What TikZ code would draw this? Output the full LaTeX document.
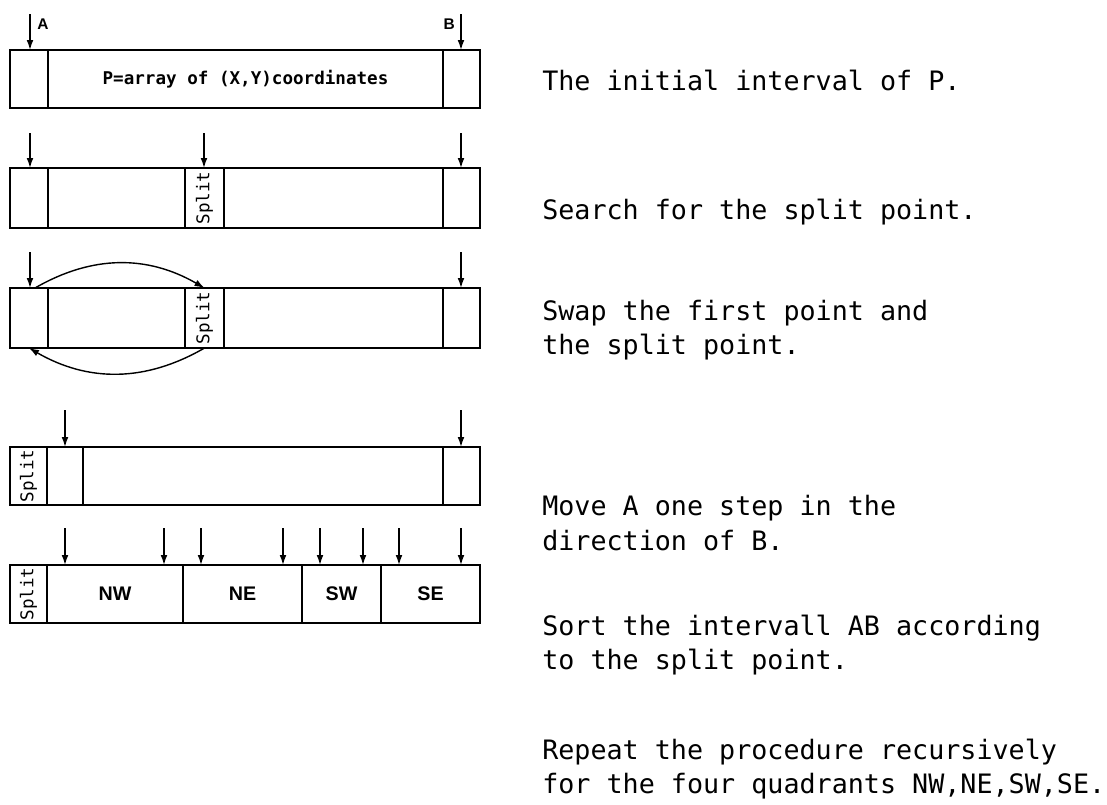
\documentclass[tikz,border=0pt]{standalone}
\usepackage{fontspec}
\setmonofont{DejaVu Sans Mono}
\setsansfont{Liberation Sans}
\usetikzlibrary{arrows.meta}

\begin{document}
\begin{tikzpicture}[x=0.025cm, y=-0.025cm, >={Latex[length=2.5mm, width=1.7mm]},
	cell/.style={draw, line width=1.5pt, inner sep=0pt, outer sep=0pt, anchor=north west,
		minimum height=1.45cm, font=\ttfamily\fontsize{12.5}{14}\selectfont},
	ptr/.style={->, line width=1pt},
	note/.style={anchor=west, align=left, inner sep=0pt, font=\ttfamily\fontsize{19}{24.4}\selectfont},
	tag/.style={font=\sffamily\bfseries\fontsize{11}{12}\selectfont, inner sep=0pt}]
	\useasboundingbox (0,0) rectangle (1107,804);
	% row 1: the whole array
	\foreach \nm/\xa/\xb/\txt in {a1/10/48/{}, p1/48/443/{\bfseries P=array of (X,Y)coordinates}, b1/443/480/{}}
		\node[cell, minimum width={(\xb-\xa)*0.025cm}] (\nm) at (\xa,50) {\txt};
	\coordinate (ta1) at (30,14);
	\coordinate (tb1) at (461,14);
	\draw[ptr] (ta1) -- (ta1 |- a1.north);
	\draw[ptr] (tb1) -- (tb1 |- b1.north);
	\node[tag, anchor=west] (lA) at (37,24) {A};
	\node[tag, anchor=east] (lB) at (455,24) {B};
	% rows 2 and 3: split point found
	\foreach \r/\y in {2/168, 3/288}
		\foreach \nm/\xa/\xb/\txt in {a/10/48/{}, l/48/185/{}, s/185/224/{\rotatebox{90}{Split}}, r/224/443/{}, b/443/480/{}}
			\node[cell, minimum width={(\xb-\xa)*0.025cm}, minimum height=1.5cm] (\nm\r) at (\xa,\y) {\txt};
	\foreach \x/\nm in {30/a, 204/s, 461/b} {
		\coordinate (t\nm2) at (\x,133);
		\draw[ptr] (t\nm2) -- (t\nm2 |- \nm2.north);
	}
	\foreach \x/\nm in {30/a, 461/b} {
		\coordinate (t\nm3) at (\x,252);
		\draw[ptr] (t\nm3) -- (t\nm3 |- \nm3.north);
	}
	\draw[ptr] ([xshift=0.15cm]a3.north) to[bend left=30] (s3.north);
	\draw[ptr] (s3.south) to[bend left=30] (a3.south);
	% row 4: A moved one step
	\foreach \nm/\xa/\xb/\txt in {s4/10/47/{\rotatebox{90}{Split}}, a4/47/83/{}, m4/83/443/{}, b4/443/480/{}}
		\node[cell, minimum width={(\xb-\xa)*0.025cm}] (\nm) at (\xa,447) {\txt};
	\foreach \x/\nm in {65/a4, 461/b4} {
		\coordinate (t\nm) at (\x,410);
		\draw[ptr] (t\nm) -- (t\nm |- \nm.north);
	}
	% row 5: sorted into quadrants
	\node[cell, minimum width=0.925cm] (s5) at (10,565) {\rotatebox{90}{Split}};
	\foreach \nm/\xa/\xb/\txt in {nw/47/183/NW, ne/183/302/NE, sw/302/381/SW, se/381/480/SE}
		\node[cell, minimum width={(\xb-\xa)*0.025cm}, font=\sffamily\bfseries\fontsize{14}{16}\selectfont] (\nm) at (\xa,565) {\txt};
	\foreach \x/\nm [count=\i] in {65/nw, 164/nw, 201/ne, 283/ne, 320/sw, 363/sw, 399/se, 461/se} {
		\coordinate (t5\i) at (\x,528);
		\draw[ptr] (t5\i) -- (t5\i |- \nm.north);
	}
	% notes
	\node[note] (n1) at (542,80) {The initial interval of P.};
	\node[note] (n2) at (542,212) {Search for the split point.};
	\node[note] (n3) at (542,330) {Swap the first point and\\the split point.};
	\node[note] (n4) at (542,523) {Move A one step in the\\direction of B.};
	\node[note] (n5) at (542,645) {Sort the intervall AB according\\to the split point.};
	\node[note] (n6) at (542,769) {Repeat the procedure recursively\\for the four quadrants NW,NE,SW,SE.};
\end{tikzpicture}
\end{document}
